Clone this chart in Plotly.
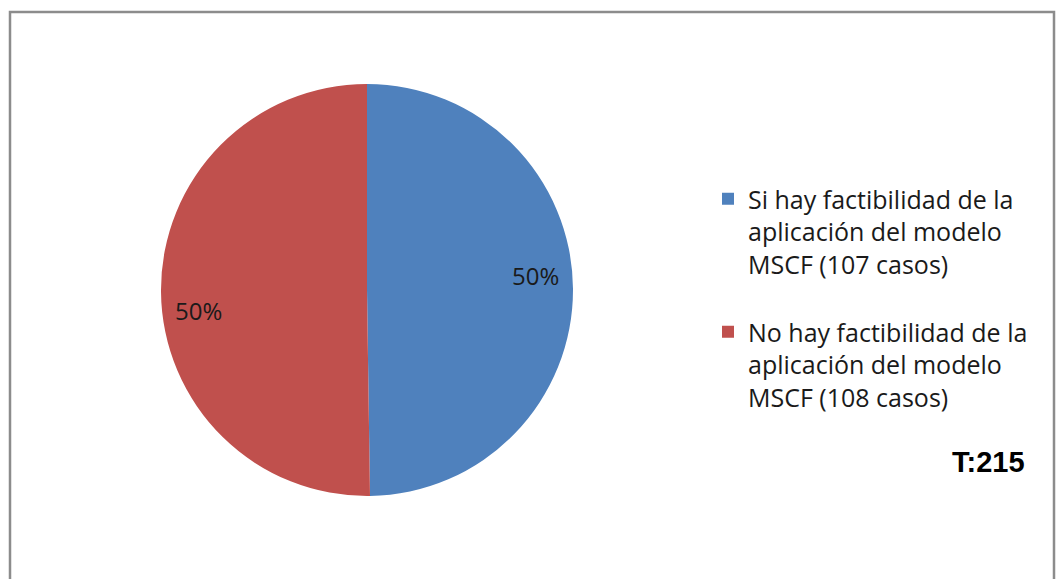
import plotly.graph_objects as go

labels = [
    "Si hay factibilidad de la<br>aplicación del modelo<br>MSCF (107 casos)<br> ",
    "No hay factibilidad de la<br>aplicación del modelo<br>MSCF (108 casos)",
]
values = [107, 108]
colors = ["#4F81BD", "#C0504D"]
total_label = "T:215"
# label anchor points (pixels) for the percentage labels, as Excel placed them
label_pos = [(535, 275), (198, 311)]

W, H = 1056, 579
cx, cy, r = 367, 290, 206

fig = go.Figure()
fig.add_trace(go.Pie(
    labels=labels,
    values=values,
    sort=False,
    direction="clockwise",
    rotation=0,
    marker=dict(colors=colors, line=dict(width=0)),
    textinfo="none",
    hoverinfo="label+value+percent",
    domain=dict(x=[(cx - r) / W, (cx + r) / W],
                y=[(H - cy - r) / H, (H - cy + r) / H]),
))

total = sum(values)
for v, (px, py) in zip(values, label_pos):
    fig.add_annotation(
        text=f"{round(100 * v / total)}%",
        xref="paper", yref="paper",
        x=px / W, y=1 - py / H,
        xanchor="center", yanchor="middle",
        showarrow=False,
        font=dict(family="Open Sans", size=24, color="#1a1a1a"),
    )

fig.add_annotation(
    text="<b>" + total_label + "</b>",
    xref="paper", yref="paper",
    x=1027 / W, y=1 - 462 / H,
    xanchor="right", yanchor="middle",
    showarrow=False,
    font=dict(family="Liberation Sans, Arial", size=29, color="#000000"),
)

fig.add_shape(
    type="rect", xref="paper", yref="paper",
    x0=10 / W, x1=1054 / W, y0=-0.05, y1=1 - 12 / H,
    line=dict(color="#8c8c8c", width=2.5),
    fillcolor="rgba(0,0,0,0)",
    layer="below",
)

fig.update_layout(
    width=W, height=H,
    margin=dict(l=0, r=0, t=0, b=0),
    paper_bgcolor="white",
    plot_bgcolor="white",
    showlegend=True,
    legend=dict(
        x=708 / W, y=1 - 176 / H,
        xanchor="left", yanchor="top",
        valign="top",
        font=dict(family="Open Sans", size=25, color="#1a1a1a"),
        bgcolor="rgba(0,0,0,0)",
    ),
    font=dict(family="Open Sans"),
)

fig.write_html("out.html")
